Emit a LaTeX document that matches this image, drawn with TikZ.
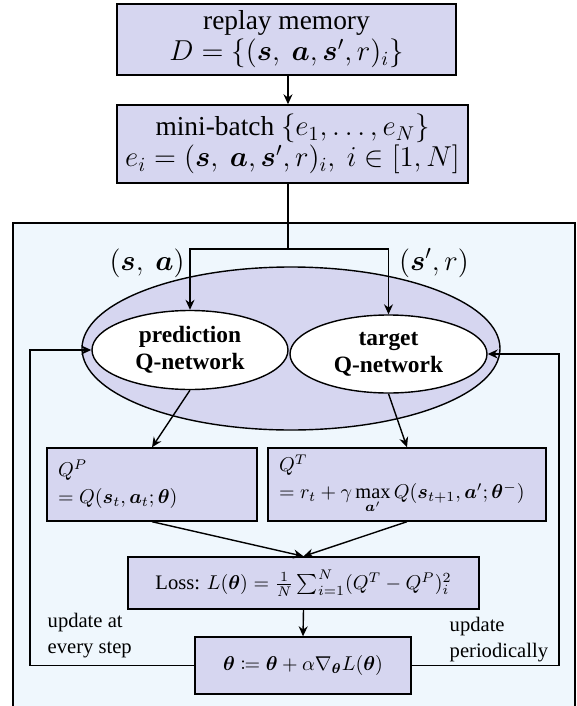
\documentclass[tikz,border=0pt]{standalone}
\usepackage{amsmath,mathtools,bm}
\usepackage{fontspec}
\setmainfont{Liberation Serif}
\usetikzlibrary{arrows.meta,shapes.geometric}
\definecolor{boxfill}{RGB}{214,214,240}
\definecolor{panel}{RGB}{239,247,253}

\begin{document}
\begin{tikzpicture}[x=0.5pt, y=-0.5pt, line width=0.7pt,
  >={Stealth[length=5pt,width=4.5pt]},
  box/.style={draw, fill=boxfill, inner sep=0pt, align=center},
  bigtext/.style={font=\fontsize{13.7}{15.5}\selectfont},
  qbox/.style={draw, fill=boxfill, inner xsep=5.5pt, inner ysep=0pt, align=left,
    minimum height=36.5pt, font=\fontsize{10.2}{13.5}\selectfont},
  net/.style={draw, ellipse, fill=white, inner sep=0pt, align=center,
    font=\bfseries\fontsize{11.7}{13.5}\selectfont},
  note/.style={inner sep=0pt, align=left, font=\fontsize{10.3}{13}\selectfont}]

  \useasboundingbox (0,0) rectangle (577,706);
  \clip (0,0) rectangle (577,706);

  % -- Replay memory and mini-batch --
  \node[box, bigtext, minimum width=169.5pt, minimum height=35.5pt] (mem) at (286.5,39.5)
    {replay memory\\ $D=\{(\bm{s},\ \bm{a},\bm{s}',r)_i\}$};
  \node[box, bigtext, minimum width=175.5pt, minimum height=39pt] (batch) at (292.5,144)
    {mini-batch $\{e_1,\dots,e_N\}$\\ $e_i=(\bm{s},\ \bm{a},\bm{s}',r)_i,\ i\in[1,N]$};

  % -- Training panel --
  \draw[fill=panel] (13,223) rectangle (575,740);
  \node[draw, ellipse, fill=boxfill, minimum width=209pt, minimum height=81.5pt] (qnets) at (291,348.5) {};
  \node[net, minimum width=98pt, minimum height=39.5pt] (pred) at (190,350) {prediction\\Q-network};
  \node[net, minimum width=98.5pt, minimum height=39pt] (targ) at (388.5,354) {target\\Q-network};

  \node[bigtext] (sa) at (147,263) {$(\bm{s},\ \bm{a})$};
  \node[bigtext] (sr) at (434,263) {$(\bm{s}',r)$};

  % -- Q values, loss, update --
  \node[qbox, minimum width=105pt, text width=94pt] (qp) at (152,484.5)
    {$Q^P$\\ $=Q(\bm{s}_t,\bm{a}_t;\bm{\theta})$};
  \node[qbox, minimum width=139pt, text width=128pt] (qt) at (407,484.5)
    {$Q^T$\\ $=r_t+\gamma\max\limits_{\bm{a}'}Q(\bm{s}_{t+1},\bm{a}';\bm{\theta}^-)$};
  \node[box, minimum width=175.5pt, minimum height=26pt, font=\fontsize{10.3}{13}\selectfont] (loss) at (303.5,583)
    {Loss: $L(\bm{\theta})=\tfrac{1}{N}\sum_{i=1}^{N}(Q^T-Q^P)_i^2$};
  \node[box, minimum width=108pt, minimum height=28.5pt, font=\fontsize{10}{12}\selectfont] (upd) at (303,665.5)
    {$\bm{\theta}\coloneqq\bm{\theta}+\alpha\nabla_{\bm{\theta}}L(\bm{\theta})$};

  \node[note, anchor=west] (every) at (47,636) {update at\\every step};
  \node[note, anchor=west] (period) at (449,640) {update\\periodically};

  % -- Connectors --
  \coordinate (split) at (288,249);
  \coordinate (fbl) at (30,665.5);
  \coordinate (fbr) at (559,665.5);

  \draw[->] (mem.south -| split) -- (batch.north -| split);
  \draw (batch.south -| split) -- (split);
  \draw[->] (split) -| (pred.north);
  \draw[->] (split) -| (targ.north);
  \draw[->] (pred.south) -- (qp.north);
  \draw[->] (targ.south) -- (qt.north);
  \draw[->] (qp.south) -- (loss.north);
  \draw[->] (qt.south) -- (loss.north);
  \draw[->] (loss.south) -- (upd.north);
  \draw[->] (upd.west) -- (fbl) |- (pred.west);
  \draw[->] (upd.east) -- (fbr) |- (targ.east);

\end{tikzpicture}
\end{document}
